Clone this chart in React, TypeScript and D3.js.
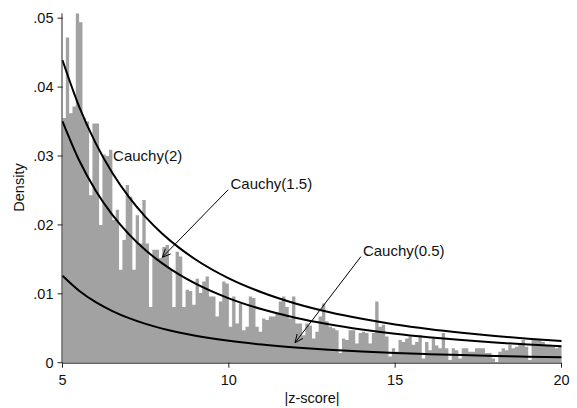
import React from "react";
import * as d3 from "d3";

// Histogram: density per bin of width 0.1, bins start at 5.0
const binStart = 5;
const binWidth = 0.1;
const density = [
  0.0355, 0.0472, 0.0362, 0.0372, 0.0507, 0.0494, 0.0355, 0.0350, 0.0243, 0.0347,
  0.0347, 0.0200, 0.0302, 0.0300, 0.0309, 0.0207, 0.0222, 0.0135, 0.0178, 0.0258,
  0.0241, 0.0135, 0.0214, 0.0173, 0.0236, 0.0173, 0.0081, 0.0164, 0.0164, 0.0152,
  0.0168, 0.0171, 0.0135, 0.0081, 0.0161, 0.0154, 0.0081,
  0.0106, 0.0104, 0.0084, 0.0122, 0.0101, 0.0118, 0.0125, 0.0096, 0.0096, 0.0067,
  0.0089, 0.0118, 0.0115, 0.0052, 0.0096, 0.0057, 0.0086, 0.0047, 0.0052, 0.0096,
  0.0094, 0.0052, 0.0045, 0.0064, 0.0062, 0.0067, 0.0067, 0.0072, 0.0089, 0.0096,
  0.0081, 0.0064, 0.0096, 0.0057, 0.0057, 0.0040, 0.0057, 0.0054,
  0.0035, 0.0045, 0.0067, 0.0086, 0.0060, 0.0052, 0.0050, 0.0047, 0.0014, 0.0035,
  0.0033, 0.0047, 0.0047, 0.0028, 0.0043, 0.0045, 0.0043, 0.0028, 0.0043, 0.0089,
  0.0052, 0.0055, 0.0038, 0.0009, 0.0021, 0.0016, 0.0033, 0.0030, 0.0035, 0.0038,
  0.0026, 0.0030, 0.0040, 0.0006, 0.0030, 0.0018, 0.0035, 0.0025,
  0.0021, 0.0043, 0.0021, 0.0004, 0.0021, 0.0018, 0.0006, 0.0021, 0.0021, 0.0016,
  0.0016, 0.0021, 0.0021, 0.0021, 0.0014, 0.0014, 0.0006, 0.0001, 0.0016, 0.0021,
  0.0018, 0.0026, 0.0021, 0.0023, 0.0028, 0.0033, 0.0023, 0.0004, 0.0033, 0.0033,
  0.0033, 0.0030, 0.0026, 0.0026, 0.0023, 0.0021, 0.0023,
];

// Curves read at these |z| values
const curveZ = [5, 5.5, 6, 6.5, 7, 7.5, 8, 8.5, 9, 10, 11, 12, 13, 14, 15, 16, 17, 18, 19, 20];
const cauchy2 = [0.0439, 0.03717, 0.03183, 0.02753, 0.02402, 0.02113, 0.01872, 0.0167, 0.01498, 0.01224, 0.01019, 0.0086, 0.00736, 0.00637, 0.00556, 0.0049, 0.00435, 0.00388, 0.00349, 0.00315];
const cauchy15 = [0.03504, 0.02938, 0.02497, 0.02146, 0.01863, 0.01632, 0.01441, 0.01282, 0.01147, 0.00934, 0.00775, 0.00653, 0.00558, 0.00482, 0.0042, 0.0037, 0.00328, 0.00293, 0.00263, 0.00237];
const cauchy05 = [0.01261, 0.01044, 0.00878, 0.00749, 0.00646, 0.00563, 0.00495, 0.00439, 0.00392, 0.00318, 0.00263, 0.00221, 0.00188, 0.00162, 0.00141, 0.00124, 0.0011, 0.00098, 0.00088, 0.0008];

const xTicks = [5, 10, 15, 20];
const yTicks = [0, 0.01, 0.02, 0.03, 0.04, 0.05];
const yTickLabels = ["0", ".01", ".02", ".03", ".04", ".05"];

// annotations in data coordinates
const labels = [
  { text: "Cauchy(2)", at: [6.52, 0.0293] },
  { text: "Cauchy(1.5)", at: [10.05, 0.0252] },
  { text: "Cauchy(0.5)", at: [14.03, 0.0155] },
];
const arrows = [
  { from: [9.98, 0.0251], to: [8.0, 0.0153] },
  { from: [13.97, 0.0154], to: [11.99, 0.0029] },
];

const W = 577;
const H = 408;
const FONT = "'Liberation Sans', Arial, sans-serif";

export default function App() {
  const x = d3.scaleLinear().domain([5, 20]).range([62.5, 561.5]);
  const y = d3.scaleLinear().domain([0, 0.05]).range([362.7, 18.2]);
  const maxBar = d3.max(density) as number;

  const pts: [number, number][] = density.map((d, i) => [binStart + i * binWidth, d]);
  pts.push([binStart + density.length * binWidth, density[density.length - 1]]);
  const area = d3
    .area<[number, number]>()
    .x((p) => x(p[0]))
    .y0(y(0))
    .y1((p) => y(p[1]))
    .curve(d3.curveStepAfter);

  const line = d3
    .line<number>()
    .x((_, i) => x(curveZ[i]))
    .y((d) => y(d))
    .curve(d3.curveMonotoneX);

  const arrowPath = (a: { from: number[]; to: number[] }) => {
    const x1 = x(a.from[0]), y1 = y(a.from[1]);
    const x2 = x(a.to[0]), y2 = y(a.to[1]);
    const ang = Math.atan2(y1 - y2, x1 - x2);
    const len = 9, spread = 0.42;
    const p1 = [x2 + len * Math.cos(ang + spread), y2 + len * Math.sin(ang + spread)];
    const p2 = [x2 + len * Math.cos(ang - spread), y2 + len * Math.sin(ang - spread)];
    return `M${x1},${y1}L${x2},${y2}M${p1[0]},${p1[1]}L${x2},${y2}L${p2[0]},${p2[1]}`;
  };

  return (
    <svg width={W} height={H} style={{ position: "absolute", left: 0, top: 0, background: "#fff" }}>
      <rect width={W} height={H} fill="#fff" />
      <path d={area(pts) || ""} fill="#a2a2a2" />
      <g fill="none" stroke="#000" strokeWidth={2}>
        <path d={line(cauchy2) || ""} />
        <path d={line(cauchy15) || ""} />
        <path d={line(cauchy05) || ""} />
      </g>
      <g fill="none" stroke="#000" strokeWidth={1}>
        {arrows.map((a, i) => (
          <path key={i} d={arrowPath(a)} />
        ))}
      </g>
      <g fontFamily={FONT} fontSize={15} fill="#111">
        {labels.map((l, i) => (
          <text key={i} x={x(l.at[0])} y={y(l.at[1])}>
            {l.text}
          </text>
        ))}
      </g>
      {/* y axis */}
      <g stroke="#222" strokeWidth={1} fontFamily={FONT} fontSize={14.5}>
        <line x1={x(5) - 0.5} x2={x(5) - 0.5} y1={y(0)} y2={y(maxBar)} />
        {yTicks.map((t, i) => (
          <g key={i}>
            <line x1={x(5) - 5} x2={x(5)} y1={y(t)} y2={y(t)} />
            <text x={x(5) - 9} y={y(t)} dy="0.35em" textAnchor="end" stroke="none" fill="#111">
              {yTickLabels[i]}
            </text>
          </g>
        ))}
        <text transform={`translate(23.7,187.5) rotate(-90)`} textAnchor="middle" stroke="none" fill="#111">
          Density
        </text>
      </g>
      {/* x axis */}
      <g stroke="#222" strokeWidth={1} fontFamily={FONT} fontSize={14.5}>
        <line x1={x(5)} x2={x(20)} y1={y(0) + 0.5} y2={y(0) + 0.5} />
        {xTicks.map((t) => (
          <g key={t}>
            <line x1={x(t)} x2={x(t)} y1={y(0)} y2={y(0) + 5} />
            <text x={x(t)} y={385} textAnchor="middle" stroke="none" fill="#111">
              {t}
            </text>
          </g>
        ))}
        <text x={(x(5) + x(20)) / 2} y={403} textAnchor="middle" stroke="none" fill="#111">
          |z-score|
        </text>
      </g>
    </svg>
  );
}
